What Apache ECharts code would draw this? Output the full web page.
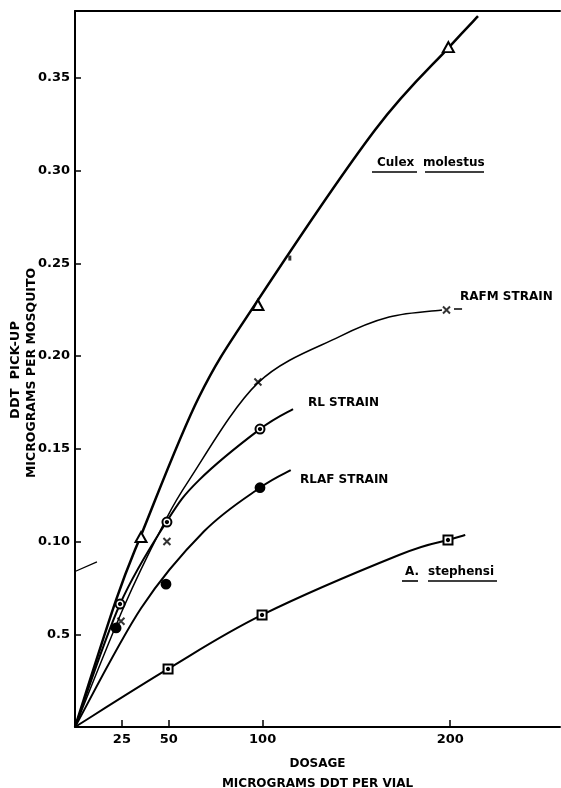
<!DOCTYPE html>
<html>
<head>
<meta charset="utf-8">
<script src="https://cdn.jsdelivr.net/npm/echarts@6/dist/echarts.min.js"></script>
<style>
  html, body { margin: 0; padding: 0; background: #fff; }
  #main { width: 561px; height: 788px; }
</style>
</head>
<body>
<div id="main"></div>
<script>
// tick labels
var xTicks = [25, 50, 100, 200];
var yTicks = [0.05, 0.10, 0.15, 0.20, 0.25, 0.30, 0.35];
var yTickLabels = ['0.5', '0.10', '0.15', '0.20', '0.25', '0.30', '0.35'];

// fitted curves [dosage, pick-up]
var culexCurve = [[0, 0], [21.9, 0.0685], [35.7, 0.1046], [66.1, 0.1779], [97.5, 0.2301], [159.9, 0.3218], [199.4, 0.3665], [214.8, 0.3832]];
var rafmCurve = [[0, 0], [26, 0.0647], [46.4, 0.1078], [60.8, 0.1331], [97.5, 0.1855], [140.7, 0.2103], [167.4, 0.221], [195.6, 0.2248]];
var rafmTail = [[202, 0.2253], [206.3, 0.2253]];
var rlCurve = [[0, 0], [24, 0.0663], [49, 0.111], [66.1, 0.1331], [98.6, 0.1606], [116.2, 0.1714]];
var rlafCurve = [[0, 0], [35.2, 0.064], [68.8, 0.1055], [98.6, 0.129], [115, 0.1385]];
var stephensiCurve = [[0, 0], [49.6, 0.0313], [99.7, 0.0604], [172.7, 0.0927], [198.8, 0.1008], [208, 0.1035]];

// observed points
var culexPts = [[35.2, 0.1024], [97.5, 0.2275], [199, 0.3665]];
var rafmPts = [[24.5, 0.057], [49, 0.100], [97.5, 0.186], [198, 0.2248]];
var rlPts = [[24, 0.0663], [49, 0.1105], [98.6, 0.1606]];
var rlafPts = [[21.9, 0.0534], [48.5, 0.077], [98.6, 0.129]];
var stephensiPts = [[49.6, 0.0313], [99.7, 0.0604], [198.8, 0.1008]];

// stray marks on the original drawing
var breakMark = [[0, 0.0838], [11.7, 0.089]];
var strayDot = [[114.5, 0.2528]];

var FONT = 'DejaVu Sans';
var myChart = echarts.init(document.getElementById('main'));

// hand-drawn style curve: catmull-rom spline through the read points
function curve(data, width) {
  return {
    type: 'custom', coordinateSystem: 'cartesian2d', data: [data[0]], silent: true, z: 2,
    renderItem: function (params, api) {
      var p = data.map(function (d) { return api.coord(d); });
      var d = 'M' + p[0][0] + ',' + p[0][1];
      for (var i = 0; i < p.length - 1; i++) {
        var p0 = p[i - 1] || p[i], p1 = p[i], p2 = p[i + 1], p3 = p[i + 2] || p[i + 1];
        var c1x = p1[0] + (p2[0] - p0[0]) / 6, c1y = p1[1] + (p2[1] - p0[1]) / 6;
        var c2x = p2[0] - (p3[0] - p1[0]) / 6, c2y = p2[1] - (p3[1] - p1[1]) / 6;
        d += ' C' + c1x + ',' + c1y + ' ' + c2x + ',' + c2y + ' ' + p2[0] + ',' + p2[1];
      }
      return { type: 'path', shape: { pathData: d }, style: { fill: 'none', stroke: '#000', lineWidth: width } };
    }
  };
}
function segment(data, width) {
  return { type: 'line', data: data, showSymbol: false, lineStyle: { color: '#000', width: width }, z: 2, silent: true };
}
function points(data, symbol, size, extra) {
  var s = {
    type: 'scatter', data: data, symbol: symbol, symbolSize: size, z: 4, silent: true,
    itemStyle: { color: '#000', borderColor: '#000', borderWidth: 1.8, opacity: 1 }
  };
  return Object.assign(s, extra || {});
}
function label(text, x, y, size) {
  return {
    type: 'text', x: x, y: y, silent: true,
    style: { text: text, fill: '#000', font: 'bold ' + (size || 12) + 'px "' + FONT + '"', align: 'left', verticalAlign: 'middle' }
  };
}
function rule(x1, x2, y) {
  return { type: 'line', silent: true, shape: { x1: x1, y1: y, x2: x2, y2: y }, style: { stroke: '#000', lineWidth: 1.6 } };
}

myChart.setOption({
  animation: false,
  backgroundColor: '#fff',
  grid: { left: 75, right: 1, top: 11, bottom: 61, outerBoundsMode: 'none' },
  xAxis: [{
    type: 'value', min: 0, max: 258.5,
    axisLine: { onZero: false, lineStyle: { color: '#000', width: 2 } },
    axisTick: { customValues: xTicks, inside: true, length: 7, lineStyle: { color: '#000', width: 1.5 } },
    axisLabel: { customValues: xTicks, color: '#000', fontFamily: FONT, fontWeight: 'bold', fontSize: 13, margin: 6 },
    splitLine: { show: false },
    name: 'DOSAGE\nMICROGRAMS DDT PER VIAL', nameLocation: 'middle', nameGap: 27,
    nameTextStyle: { color: '#000', fontFamily: FONT, fontWeight: 'bold', fontSize: 12, lineHeight: 20 }
  }, {
    type: 'value', position: 'top', min: 0, max: 258.5,
    axisLine: { show: true, onZero: false, lineStyle: { color: '#000', width: 2 } },
    axisTick: { show: false }, axisLabel: { show: false }, splitLine: { show: false }
  }],
  yAxis: {
    type: 'value', min: 0, max: 0.386,
    axisLine: { show: true, onZero: false, lineStyle: { color: '#000', width: 2 } },
    axisTick: { customValues: yTicks, inside: true, length: 6, lineStyle: { color: '#000', width: 1.5 } },
    axisLabel: {
      customValues: yTicks, color: '#000', fontFamily: FONT, fontWeight: 'bold', fontSize: 13, margin: 5,
      formatter: function (v) {
        for (var i = 0; i < yTicks.length; i++) if (Math.abs(yTicks[i] - v) < 1e-6) return yTickLabels[i];
        return '';
      }
    },
    splitLine: { show: false }
  },
  series: [
    curve(culexCurve, 2.5),
    curve(rafmCurve, 1.5),
    segment(rafmTail, 1.5),
    curve(rlCurve, 2),
    curve(rlafCurve, 2),
    curve(stephensiCurve, 2),
    segment(breakMark, 1.2),
    points(culexPts, 'emptyTriangle', [11, 10]),
    points(rafmPts, 'path://M0,0L10,10M10,0L0,10', 7, { itemStyle: { color: '#000', borderColor: '#000', borderWidth: 2 } }),
    points(rlPts, 'emptyCircle', 9),
    points(rlPts, 'circle', 2.5, { z: 5 }),
    points(rlafPts, 'circle', 9),
    points(stephensiPts, 'emptyRect', 9),
    points(stephensiPts, 'circle', 2.5, { z: 5 }),
    points(strayDot, 'rect', [3, 5], { itemStyle: { color: '#000', borderWidth: 0 } })
  ],
  graphic: [
    {
      type: 'text', x: 16, y: 370, rotation: Math.PI / 2, silent: true,
      style: { text: 'DDT  PICK-UP', fill: '#000', font: 'bold 13px "' + FONT + '"', align: 'center', verticalAlign: 'middle' }
    },
    {
      type: 'text', x: 32, y: 373, rotation: Math.PI / 2, silent: true,
      style: { text: 'MICROGRAMS PER MOSQUITO', fill: '#000', font: 'bold 12.5px "' + FONT + '"', align: 'center', verticalAlign: 'middle' }
    },
    label('Culex', 377, 163),
    label('molestus', 423, 163),
    rule(372, 417, 172),
    rule(425, 484, 172),
    label('RAFM STRAIN', 460, 297),
    label('RL STRAIN', 308, 403),
    label('RLAF STRAIN', 300, 480),
    label('A.', 405, 572),
    label('stephensi', 428, 572),
    rule(402, 418, 581),
    rule(428, 497, 581)
  ]
});
</script>
</body>
</html>
